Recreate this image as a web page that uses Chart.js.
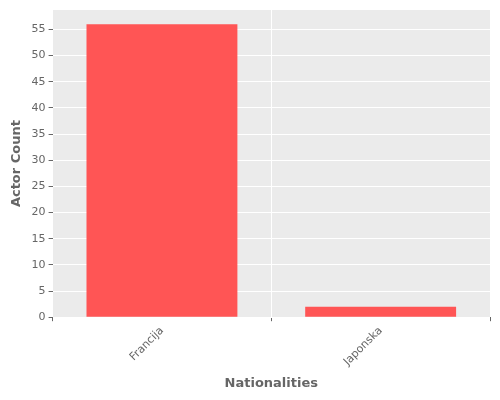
<!DOCTYPE html>
<html><head><meta charset="utf-8">
<script src="https://cdn.jsdelivr.net/npm/chart.js@4/dist/chart.umd.min.js"></script>
<style>html,body{margin:0;padding:0;background:#fff}#w{width:500px;height:400px}</style>
</head><body><div id="w"><canvas id="c"></canvas></div>
<script>
const categories = ["Francija", "Japonska"];
const actorCounts = [56, 2];
const yTicks = [0,5,10,15,20,25,30,35,40,45,50,55];

const bgPlugin = {
  id: 'bg',
  beforeDraw(chart) {
    const {ctx, chartArea: a} = chart;
    ctx.save(); ctx.fillStyle = '#EBEBEB';
    ctx.fillRect(a.left, a.top, a.right - a.left, a.bottom - a.top);
    ctx.restore();
  }
};
new Chart(document.getElementById('c'), {
  type: 'bar',
  data: { labels: categories, datasets: [{ data: actorCounts, backgroundColor: '#FF5555',
    barPercentage: 0.69, categoryPercentage: 1 }] },
  options: {
    responsive: true, maintainAspectRatio: false, animation: false,
    layout: { padding: { top: 10, right: 10, left: 5, bottom: 5 } },
    plugins: { legend: { display: false }, tooltip: { enabled: false } },
    scales: {
      x: {
        grid: { color: '#FFFFFF', drawTicks: true, tickLength: 4, tickColor: '#666' },
        border: { display: false },
        ticks: { color: '#666', font: { family: 'DejaVu Sans', size: 11 }, maxRotation: 45, minRotation: 45 },
        title: { display: true, text: 'Nationalities', color: '#666', font: { family: 'DejaVu Sans', size: 13, weight: 'bold' } }
      },
      y: {
        min: 0, max: 58.7,
        afterBuildTicks: s => { s.ticks = yTicks.map(v => ({ value: v })); },
        grid: { color: '#FFFFFF', tickLength: 4, tickColor: '#666' },
        border: { display: false },
        ticks: { color: '#666', font: { family: 'DejaVu Sans', size: 11 } },
        title: { display: true, text: 'Actor Count', color: '#666', font: { family: 'DejaVu Sans', size: 13, weight: 'bold' } }
      }
    }
  },
  plugins: [bgPlugin]
});
</script></body></html>
